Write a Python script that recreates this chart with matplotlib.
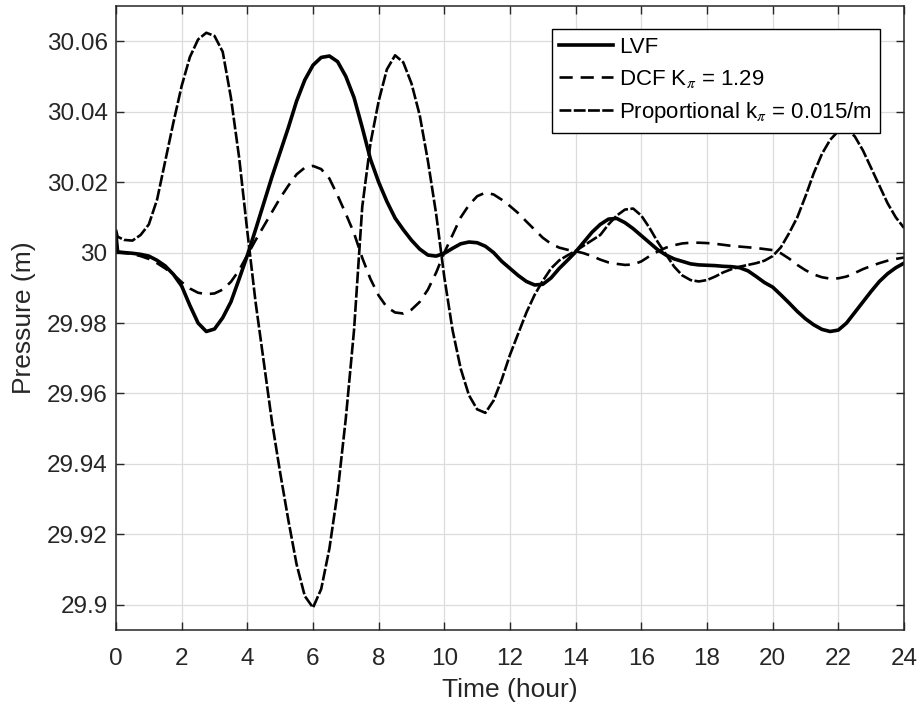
import numpy as np
import matplotlib
matplotlib.use("Agg")
import matplotlib.pyplot as plt

plt.rcParams['font.family'] = ['Liberation Sans', 'DejaVu Sans']
plt.rcParams['mathtext.fontset'] = 'stix'

# time axis (hours)
hours = [0, 0.05] + [0.25 * k for k in range(1, 97)]

lvf = [30.0050, 30.0002,
       30.0000, 29.9998, 29.9995, 29.9990, 29.9978, 29.9962, 29.9938, 29.9905,
       29.9850, 29.9800, 29.9776, 29.9783, 29.9815, 29.9860, 29.9925, 29.9992,
       30.0065, 30.0140, 30.0215, 30.0285, 30.0355, 30.0430, 30.0490, 30.0532,
       30.0554, 30.0558, 30.0542, 30.0500, 30.0440, 30.0355, 30.0265, 30.0200,
       30.0145, 30.0098, 30.0065, 30.0035, 30.0010, 29.9993, 29.9990, 29.9998,
       30.0012, 30.0025, 30.0030, 30.0028, 30.0018, 30.0000, 29.9975, 29.9955,
       29.9935, 29.9918, 29.9908, 29.9910, 29.9928, 29.9955, 29.9978, 30.0002,
       30.0030, 30.0058, 30.0080, 30.0095, 30.0097, 30.0085, 30.0068, 30.0048,
       30.0028, 30.0008, 29.9993, 29.9982, 29.9975, 29.9968, 29.9965, 29.9964,
       29.9963, 29.9961, 29.9960, 29.9957, 29.9948, 29.9932, 29.9915, 29.9902,
       29.9880, 29.9857, 29.9833, 29.9812, 29.9795, 29.9782, 29.9776, 29.9780,
       29.9800, 29.9830, 29.9860, 29.9890, 29.9918, 29.9940, 29.9957, 29.9970]

dcf = [30.0000, 30.0000,
       29.9999, 29.9996, 29.9990, 29.9982, 29.9970, 29.9955, 29.9938, 29.9916,
       29.9898, 29.9886, 29.9882, 29.9884, 29.9895, 29.9917, 29.9950, 29.9993,
       30.0035, 30.0075, 30.0115, 30.0155, 30.0190, 30.0222, 30.0241, 30.0246,
       30.0237, 30.0210, 30.0162, 30.0110, 30.0055, 29.9985, 29.9925, 29.9878,
       29.9845, 29.9830, 29.9827, 29.9838, 29.9860, 29.9895, 29.9943, 30.0000,
       30.0050, 30.0100, 30.0135, 30.0160, 30.0170, 30.0165, 30.0150, 30.0132,
       30.0112, 30.0088, 30.0065, 30.0042, 30.0025, 30.0014, 30.0008, 30.0004,
       29.9998, 29.9990, 29.9980, 29.9972, 29.9968, 29.9965, 29.9966, 29.9975,
       29.9990, 30.0003, 30.0014, 30.0021, 30.0026, 30.0028, 30.0028, 30.0027,
       30.0025, 30.0022, 30.0019, 30.0017, 30.0015, 30.0013, 30.0010, 30.0007,
       29.9998, 29.9983, 29.9965, 29.9950, 29.9938, 29.9930, 29.9926, 29.9927,
       29.9932, 29.9942, 29.9953, 29.9962, 29.9970, 29.9977, 29.9982, 29.9986]

prop = [30.0065, 30.0045,
        30.0036, 30.0034, 30.0050, 30.0080, 30.0150, 30.0260, 30.0370, 30.0473,
        30.0555, 30.0605, 30.0624, 30.0615, 30.0570, 30.0440, 30.0270, 30.0060,
        29.9860, 29.9690, 29.9520, 29.9375, 29.9240, 29.9115, 29.9025, 29.8992,
        29.9045, 29.9160, 29.9320, 29.9530, 29.9780, 30.0130, 30.0310, 30.0430,
        30.0520, 30.0560, 30.0540, 30.0480, 30.0390, 30.0260, 30.0110, 29.9930,
        29.9780, 29.9670, 29.9595, 29.9555, 29.9545, 29.9580, 29.9640, 29.9710,
        29.9770, 29.9830, 29.9880, 29.9920, 29.9955, 29.9978, 29.9992, 30.0005,
        30.0020, 30.0035, 30.0050, 30.0080, 30.0105, 30.0122, 30.0125, 30.0105,
        30.0070, 30.0030, 29.9995, 29.9960, 29.9935, 29.9922, 29.9918, 29.9922,
        29.9932, 29.9944, 29.9953, 29.9960, 29.9965, 29.9970, 29.9977, 29.9990,
        30.0015, 30.0055, 30.0100, 30.0160, 30.0225, 30.0280, 30.0320, 30.0345,
        30.0350, 30.0330, 30.0290, 30.0240, 30.0190, 30.0140, 30.0100, 30.0070]

xticks = list(range(0, 25, 2))
yticks = [29.90, 29.92, 29.94, 29.96, 29.98, 30.00, 30.02, 30.04, 30.06]
ytick_labels = ['29.9', '29.92', '29.94', '29.96', '29.98', '30', '30.02', '30.04', '30.06']

txt = '#262626'
fig = plt.figure(figsize=(9.2, 7.09), dpi=100)
ax = fig.add_axes([116/920, 1 - 629.5/709, 788/920, 623.5/709])

ax.plot(hours, lvf, color='k', lw=2.6, label='LVF')
ax.plot(hours, dcf, color='k', lw=1.9, linestyle=(0, (5, 3)), label='DCF K$_{\\pi}$ = 1.29')
ax.plot(hours, prop, color='k', lw=1.9, linestyle=(0, (4.5, 0.9)),
        label='Proportional k$_{\\pi}$ = 0.015/m')

ax.set_xlim(0, 24)
ax.set_ylim(29.893, 30.070)
ax.set_xticks(xticks)
ax.set_yticks(yticks)
ax.set_yticklabels(ytick_labels)
ax.grid(True, color='#dcdcdc', lw=0.9)
ax.set_axisbelow(True)
ax.tick_params(direction='in', length=5.8, width=1.0, color=txt, labelcolor=txt,
               labelsize=17.5, top=True, right=True)
ax.tick_params(axis='x', pad=13)
ax.tick_params(axis='y', pad=6)
for s in ax.spines.values():
    s.set_color(txt)
    s.set_linewidth(1.1)

ax.set_xlabel('Time (hour)', fontsize=19, color=txt, labelpad=6)
ax.set_ylabel('Pressure (m)', fontsize=19, color=txt, labelpad=8)

leg = ax.legend(loc='upper right', bbox_to_anchor=(0.9695, 0.9631), fontsize=16,
                frameon=True, fancybox=False, edgecolor='k', framealpha=1,
                handlelength=2.4, handletextpad=0.3, labelspacing=0.45,
                borderpad=0.35, borderaxespad=0)
leg.get_frame().set_linewidth(1.0)
for t in leg.get_texts():
    t.set_color('k')

fig.savefig('out.png', dpi=100)
